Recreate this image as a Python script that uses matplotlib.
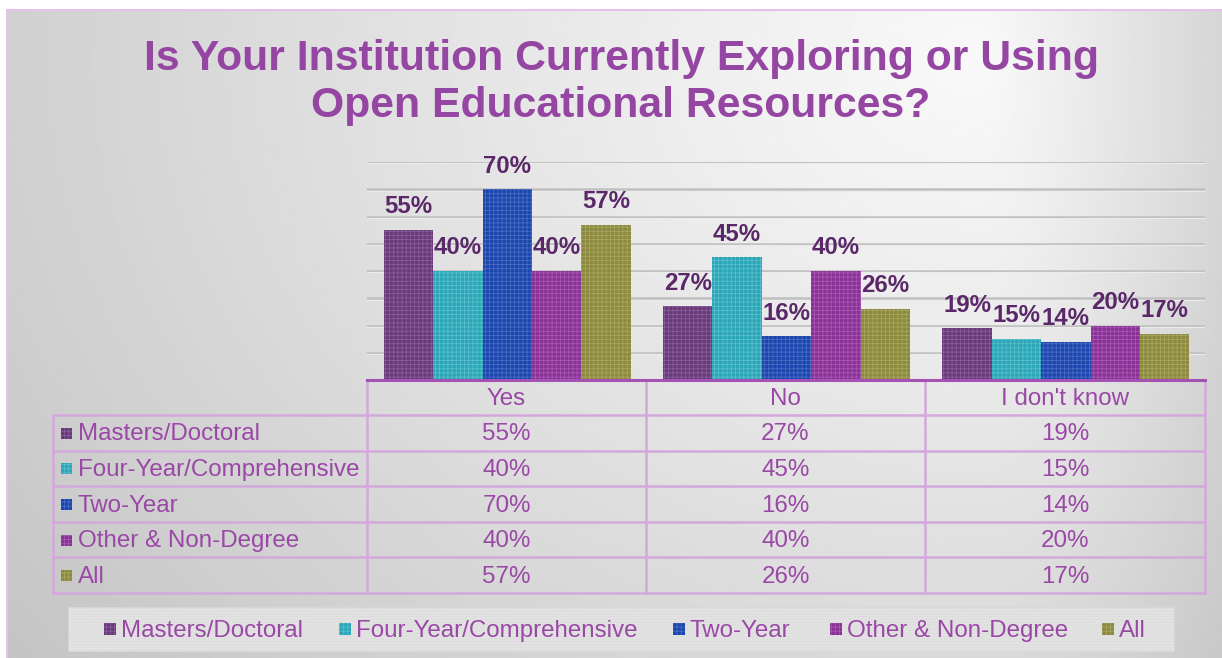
import numpy as np
import matplotlib
matplotlib.use("Agg")
import matplotlib.pyplot as plt
from matplotlib.patches import Rectangle

plt.rcParams['font.family'] = ['Liberation Sans', 'DejaVu Sans']
plt.rcParams['hatch.linewidth'] = 0.55

# survey answers by institution type
answers = ['Yes', 'No', "I don't know"]
groups = ['Masters/Doctoral', 'Four-Year/Comprehensive', 'Two-Year',
          'Other & Non-Degree', 'All']
masters = [0.55, 0.27, 0.19]
four_year = [0.40, 0.45, 0.15]
two_year = [0.70, 0.16, 0.14]
other = [0.40, 0.40, 0.20]
all_inst = [0.57, 0.26, 0.17]
series = [masters, four_year, two_year, other, all_inst]

colors = ['#6a3a78', '#2aa6b8', '#1c46ae', '#8a3195', '#8c8a3c']
hatch_colors = ['#86609a', '#5cbfcc', '#4a6ec4', '#a75ab4', '#a8a664']

title_color = '#9546a2'
label_color = '#5a2868'
table_text = '#9a48a6'
grid_line = '#d4a8dc'
txt_size = 17.4

W, H = 1222, 658
fig = plt.figure(figsize=(W / 100, H / 100), dpi=100)
fig.patch.set_facecolor('white')

# background panel with soft gray shading
bg = fig.add_axes([7 / W, 0, 1 - 7 / W, 1 - 10 / H], zorder=0)
xx, yy = np.meshgrid(np.linspace(7, W, 400), np.linspace(10, H, 220))
sx = np.where(xx < 980, 1150.0, 330.0)
d = np.sqrt(((xx - 980) / sx) ** 2 + ((yy - 60) / 900) ** 2)
shade = 0.975 - 0.19 * np.clip(d, 0, 1.3) ** 1.1
bg.imshow(shade, cmap='gray', vmin=0, vmax=1, aspect='auto',
          extent=[0, 1, 0, 1], interpolation='bilinear')
bg.set_xlim(0, 1)
bg.set_ylim(0, 1)
for side in bg.spines.values():
    side.set_color('#e2c4ea')
    side.set_linewidth(1.5)
bg.spines['right'].set_visible(False)
bg.spines['bottom'].set_visible(False)
bg.set_xticks([])
bg.set_yticks([])

# bar area
ax = fig.add_axes([367 / W, 1 - 380 / H, 838 / W, 218 / H], zorder=1)
ax.patch.set_alpha(0)
ax.set_xlim(-0.5, 2.5)
ax.set_ylim(0, 0.8)
for y in np.arange(0.1, 0.81, 0.1):
    ax.axhline(y, color='#c0c0c0', lw=1.8, zorder=0)
    ax.axhline(y - 0.005, color='#ececec', lw=0.8, zorder=0)

x = np.arange(len(answers))
bw = 0.177
for i, vals in enumerate(series):
    pos = x + (i - 2) * bw + 0.002
    bars = ax.bar(pos, vals, bw, color=colors[i], edgecolor=hatch_colors[i],
                  linewidth=0, hatch='++++', zorder=2)
    for b, v in zip(bars, vals):
        ax.annotate(f'{v:.0%}', (b.get_x() + b.get_width() / 2, v),
                    xytext=(0, 12), textcoords='offset points',
                    ha='center', va='baseline', fontsize=17.3,
                    fontweight='bold', color=label_color, zorder=3)
for side in ax.spines.values():
    side.set_visible(False)
ax.set_xticks([])
ax.set_yticks([])

# data table and legend drawn in pixel space
ov = fig.add_axes([0, 0, 1, 1], zorder=2)
ov.patch.set_alpha(0)
ov.set_xlim(0, W)
ov.set_ylim(H, 0)
ov.axis('off')

ov.text(621, 70, 'Is Your Institution Currently Exploring or Using',
        ha='center', va='baseline', fontsize=30.8, fontweight='bold',
        color=title_color)
ov.text(621, 117, 'Open Educational Resources?', ha='center',
        va='baseline', fontsize=30.8, fontweight='bold', color=title_color)

col_x = [367, 646, 925, 1205]
row_y = [415, 450.5, 486, 522, 557, 593]
lw = 1.8
for yv in row_y:
    ov.plot([53, 1205], [yv, yv], color=grid_line, lw=lw)
ov.plot([53, 53], [row_y[0], row_y[-1]], color=grid_line, lw=lw)
for xv in col_x:
    ov.plot([xv, xv], [380, row_y[-1]], color=grid_line, lw=lw)
ov.plot([367, 1205], [380, 380], color='#a452b4', lw=2.2)

for j, ans in enumerate(answers):
    cx = (col_x[j] + col_x[j + 1]) / 2
    ov.text(cx, 405, ans, ha='center', va='baseline', fontsize=txt_size,
            color=table_text)

for i, (name, vals) in enumerate(zip(groups, series)):
    base = row_y[i + 1] - 10
    mid = (row_y[i] + row_y[i + 1]) / 2
    ov.add_patch(Rectangle((61, mid - 5), 11, 11, facecolor=colors[i],
                           edgecolor=hatch_colors[i], lw=0, hatch='++++'))
    ov.text(78, base, name, ha='left', va='baseline', fontsize=txt_size,
            color=table_text)
    for j, v in enumerate(vals):
        cx = (col_x[j] + col_x[j + 1]) / 2
        ov.text(cx, base, f'{v:.0%}', ha='center', va='baseline',
                fontsize=txt_size, color=table_text)

# legend strip
ov.add_patch(Rectangle((68, 607), 1106, 44, facecolor='#e3e3e3',
                       edgecolor='#d6d6d6', lw=0.5, hatch='......'))
legend_x = [104, 339, 673, 830, 1102]
for i, name in enumerate(groups):
    ov.add_patch(Rectangle((legend_x[i], 623), 12, 12, facecolor=colors[i],
                           edgecolor=hatch_colors[i], lw=0, hatch='++++'))
    ov.text(legend_x[i] + 17, 637, name, ha='left', va='baseline',
            fontsize=txt_size, color=table_text)

fig.savefig('out.png', dpi=100)
